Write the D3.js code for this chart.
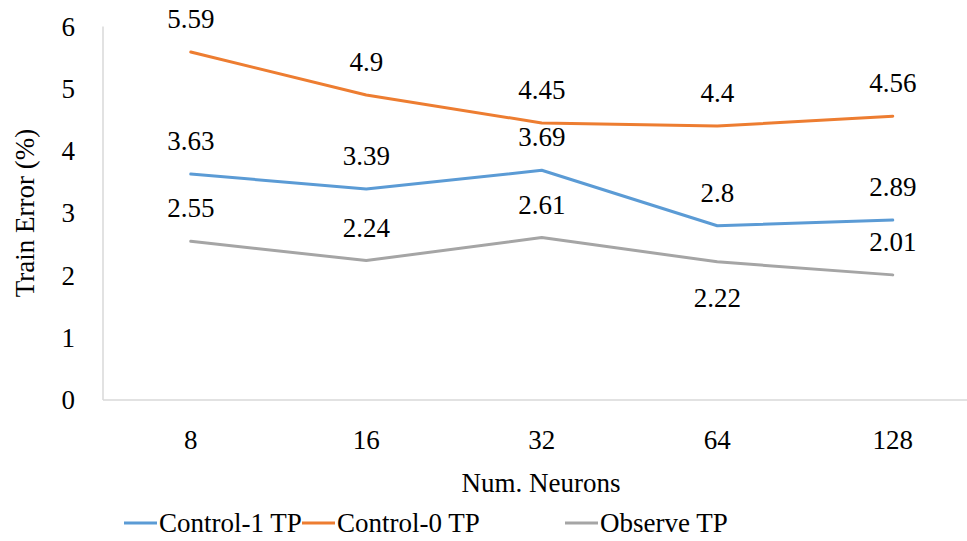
<!DOCTYPE html>
<html><head><meta charset="utf-8">
<script src="https://cdn.jsdelivr.net/npm/d3@7"></script>
</head><body style="margin:0;background:#fff"><svg id="c" width="967" height="541"></svg>
<script>
const categories = ["8","16","32","64","128"];
const control1 = [3.63, 3.39, 3.69, 2.8, 2.89];
const control0 = [5.59, 4.9, 4.45, 4.4, 4.56];
const observe = [2.55, 2.24, 2.61, 2.22, 2.01];
const yTicks = [0,1,2,3,4,5,6];
const seriesNames = ["Control-1 TP","Control-0 TP","Observe TP"];
const colors = ["#5B9BD5","#ED7D31","#A5A5A5"];
const labelBelow = [[],[],[3]];

const FONT = "Liberation Serif";
const svg = d3.select("#c").style("font-family", FONT, "important");
const fs = 27;
const x = d3.scaleBand().domain(categories).range([103, 980.5]);
const y = d3.scaleLinear().domain([0,6]).range([400, 26.5]);
const cx = c => x(c) + x.bandwidth()/2;
const txt = sel => sel.attr("font-family", FONT).attr("font-size", fs).attr("fill", "#000")
  .style("font-family", FONT, "important").style("font-size", fs + "px", "important");

svg.append("line").attr("x1",103).attr("x2",967).attr("y1",y(0)).attr("y2",y(0)).attr("stroke","#D9D9D9").attr("stroke-width",1.5);
svg.append("line").attr("x1",103).attr("x2",103).attr("y1",y(0)).attr("y2",y(6)).attr("stroke","#D9D9D9").attr("stroke-width",1.5);

svg.selectAll(".yt").data(yTicks).enter().append("text")
  .attr("x",75).attr("y",d=>y(d)+9).attr("text-anchor","end")
  .call(txt).text(d=>d);
svg.selectAll(".xt").data(categories).enter().append("text")
  .attr("x",d=>cx(d)).attr("y",449).attr("text-anchor","middle")
  .call(txt).text(d=>d);

svg.append("text").attr("x",541).attr("y",492).attr("text-anchor","middle").call(txt).text("Num. Neurons");
svg.append("text").attr("transform","translate(34,213) rotate(-90)").attr("text-anchor","middle").call(txt).text("Train Error (%)");

const series = [control1, control0, observe];
const line = d3.line().x((d,i)=>cx(categories[i])).y(d=>y(d));
series.forEach((s,k)=>{
  svg.append("path").datum(s).attr("d",line).attr("fill","none").attr("stroke",colors[k]).attr("stroke-width",3).attr("stroke-linecap","round").attr("stroke-linejoin","round");
});
series.forEach((s,k)=>{
  svg.selectAll(".l"+k).data(s).enter().append("text")
    .attr("x",(d,i)=>cx(categories[i]))
    .attr("y",(d,i)=> labelBelow[k].includes(i) ? y(d)+45 : y(d)-24)
    .attr("text-anchor","middle").call(txt).text(d=>d);
});

const legX = [124, 302, 565];
seriesNames.forEach((n,k)=>{
  svg.append("line").attr("x1",legX[k]).attr("x2",legX[k]+33).attr("y1",523).attr("y2",523).attr("stroke",colors[k]).attr("stroke-width",3);
  svg.append("text").attr("x",legX[k]+35).attr("y",532).call(txt).text(n);
});
</script></body></html>
